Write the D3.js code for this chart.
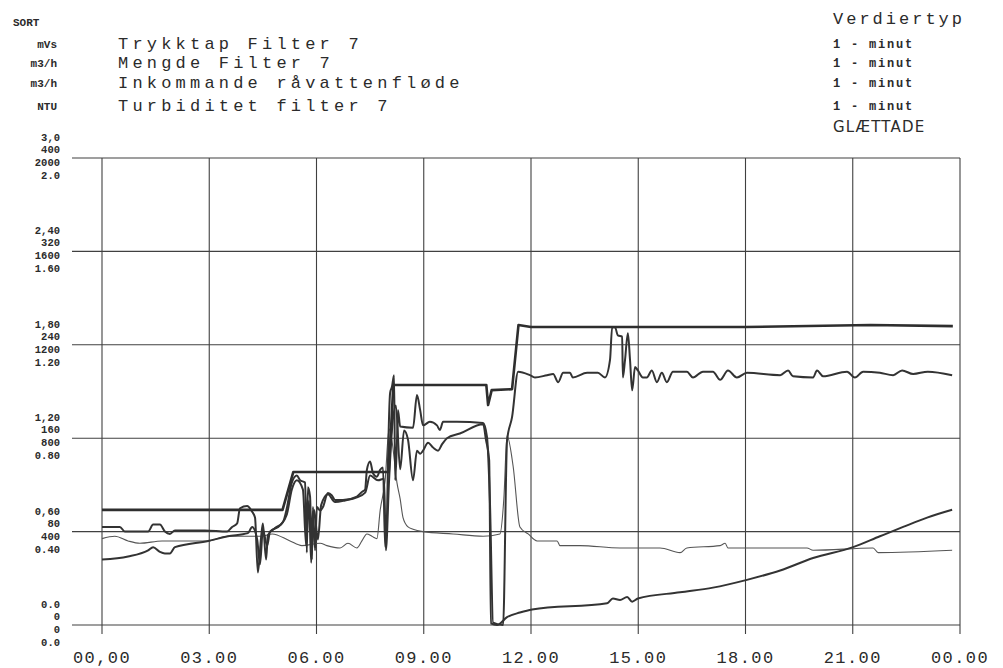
<!DOCTYPE html>
<html>
<head>
<meta charset="utf-8">
<script src="https://cdn.jsdelivr.net/npm/d3@7"></script>
<style>
  body { margin: 0; background: #fff; }
  svg text { fill: #2b2b2b; }
</style>
</head>
<body>
<div id="chart"></div>
<script>
// hours of day vs value
var inkommande = [[0,493],[5.05,493],[5.35,655],[8.02,655],[8.15,1028],[10.75,1028],[10.8,942],[10.9,1006],[11.47,1010],[11.65,1285],[12,1276],[18,1276],[21.5,1285],[23.8,1280]];

var mengde = [[0,84],[0.5,84],[0.64,80],[1.29,80],[1.43,86],[1.62,86],[1.76,80],[1.9,78],[2.04,81],[2.88,81],[3.5,80],[3.64,84],[3.78,87],[3.86,100],[4.06,102],[4.2,97],[4.28,92],[4.36,45],[4.45,75],[4.5,87],[4.59,56],[4.64,77],[4.84,83],[5.06,88],[5.17,100],[5.31,122],[5.45,128],[5.54,124],[5.68,122],[5.73,62],[5.76,118],[5.82,110],[5.87,56],[5.9,101],[5.96,64],[6.01,101],[6.1,98],[6.18,101],[6.32,113],[6.43,111],[6.52,107],[6.74,107],[7.13,110],[7.27,114],[7.36,116],[7.41,133],[7.5,140],[7.58,130],[7.69,127],[7.78,133],[7.86,135],[7.92,67],[7.97,90],[8.0,141],[8.06,199],[8.11,204],[8.17,214],[8.2,124],[8.25,156],[8.28,184],[8.34,170],[8.7,169],[8.81,197],[8.9,184],[8.98,171],[9.17,174],[9.37,171],[9.45,167],[9.54,174],[9.93,174],[10.66,173],[10.77,161],[10.85,107],[10.94,2],[11.22,0],[11.33,158],[11.47,178],[11.64,217],[11.97,214],[12.11,212],[12.45,214],[12.62,215],[12.76,208],[12.9,216],[13.09,216],[13.17,212],[13.57,216],[13.87,216],[14.07,212],[14.21,227],[14.27,255],[14.35,255],[14.43,248],[14.55,247],[14.57,212],[14.63,227],[14.71,250],[14.77,227],[14.83,201],[14.91,221],[14.99,218],[15.13,212],[15.24,212],[15.38,218],[15.52,208],[15.66,216],[15.8,208],[15.97,217],[16.36,217],[16.53,212],[16.81,217],[17.09,217],[17.29,210],[17.51,218],[17.76,212],[18.04,216],[18.97,214],[19.19,218],[19.33,213],[19.89,212],[20.0,218],[20.17,213],[20.84,217],[21.06,212],[21.29,217],[21.76,216],[22.13,214],[22.38,218],[22.69,215],[23.1,217],[23.78,214]];

var trykktap = [[0,0.42],[0.73,0.44],[1.29,0.48],[1.43,0.5],[1.62,0.47],[1.76,0.46],[1.9,0.46],[2.04,0.5],[2.97,0.54],[3.52,0.57],[4.08,0.59],[4.2,0.63],[4.34,0.55],[4.42,0.39],[4.5,0.61],[4.62,0.51],[4.7,0.6],[4.98,0.64],[5.17,0.71],[5.31,0.87],[5.45,0.93],[5.62,0.87],[5.71,0.51],[5.79,0.8],[5.85,0.4],[5.93,0.74],[6.04,0.55],[6.13,0.77],[6.32,0.84],[6.52,0.79],[6.8,0.8],[7.13,0.82],[7.36,0.85],[7.5,0.96],[7.72,0.93],[7.89,0.94],[7.94,0.48],[8.03,0.93],[8.11,1.25],[8.22,1.41],[8.34,1.0],[8.45,1.25],[8.56,1.19],[8.7,0.93],[8.81,1.12],[8.9,1.1],[8.98,1.12],[9.12,1.17],[9.26,1.14],[9.4,1.12],[9.51,1.16],[9.65,1.2],[10.01,1.23],[10.66,1.29],[10.74,1.19],[10.83,1.06],[10.88,0.01],[11.05,0],[11.33,0.05],[11.69,0.08],[12.03,0.1],[14.13,0.14],[14.29,0.17],[14.49,0.16],[14.69,0.18],[14.83,0.15],[14.99,0.17],[16.17,0.21],[17.09,0.24],[18.04,0.29],[18.97,0.35],[19.89,0.43],[21.01,0.5],[21.76,0.57],[22.41,0.63],[23.08,0.69],[23.78,0.74]];

var turbiditet = [[0,0.37],[0.36,0.38],[0.73,0.36],[1.06,0.35],[1.68,0.36],[2.97,0.36],[3.52,0.38],[4.14,0.38],[4.48,0.38],[4.76,0.39],[5.26,0.36],[5.59,0.34],[6.1,0.35],[6.29,0.34],[6.66,0.33],[6.88,0.35],[7.13,0.33],[7.27,0.36],[7.41,0.39],[7.55,0.38],[7.69,0.37],[7.78,0.49],[7.92,0.62],[8.03,0.84],[8.11,0.79],[8.25,0.61],[8.34,0.54],[8.42,0.46],[8.56,0.42],[8.7,0.41],[8.98,0.4],[9.82,0.39],[10.66,0.38],[11.13,0.39],[11.24,0.54],[11.33,0.81],[11.5,0.68],[11.69,0.42],[11.92,0.39],[12.17,0.36],[12.73,0.36],[12.81,0.34],[13.37,0.34],[14.49,0.33],[15.61,0.33],[16.17,0.31],[16.36,0.33],[17.29,0.34],[17.43,0.35],[17.51,0.33],[19.72,0.33],[19.89,0.32],[21.57,0.33],[21.71,0.31],[23.78,0.32]];

// tick values and printed labels per scale (bottom to top)
var trykkTicks = [0, 0.6, 1.2, 1.8, 2.4, 3.0];
var trykkLabels = ['0.0', '0,60', '1,20', '1,80', '2,40', '3,0'];
var mengdeTicks = [0, 80, 160, 240, 320, 400];
var mengdeLabels = ['0', '80', '160', '240', '320', '400'];
var inkTicks = [0, 400, 800, 1200, 1600, 2000];
var inkLabels = ['0', '400', '800', '1200', '1600', '2000'];
var turbTicks = [0, 0.4, 0.8, 1.2, 1.6, 2.0];
var turbLabels = ['0.0', '0.40', '0.80', '1.20', '1.60', '2.0'];

var hourTicks = [0, 3, 6, 9, 12, 15, 18, 21, 24];
var hourLabels = ['00,00', '03.00', '06.00', '09.00', '12.00', '15.00', '18.00', '21.00', '00.00'];

var units = ['mVs', 'm3/h', 'm3/h', 'NTU'];
var titles = ['Trykktap Filter 7', 'Mengde Filter 7', 'Inkommande råvattenfløde', 'Turbiditet filter 7'];
var valueTypes = ['1 - minut', '1 - minut', '1 - minut', '1 - minut'];

(function() {
  var width = 1003;
  var height = 668;
  var left = 102, right = 960, top = 158, bottom = 625;
  var mono = "'Liberation Mono', 'DejaVu Sans Mono', monospace";

  var svg = d3.select('#chart')
    .append('svg')
    .attr('width', width)
    .attr('height', height);

  var x = d3.scaleLinear().domain([0, 24]).range([left, right]);
  var yTrykk = d3.scaleLinear().domain([0, 3.0]).range([bottom, top]);
  var yMengde = d3.scaleLinear().domain([0, 400]).range([bottom, top]);
  var yInk = d3.scaleLinear().domain([0, 2000]).range([bottom, top]);
  var yTurb = d3.scaleLinear().domain([0, 2.0]).range([bottom, top]);

  // header, left column
  svg.append('text')
    .attr('x', 13).attr('y', 26)
    .style('font-family', mono).style('font-size', '11px').style('font-weight', 'bold')
    .text('SORT');

  var rowY = [48, 67, 87, 110];
  svg.selectAll('.unit')
    .data(units)
    .enter().append('text')
    .attr('class', 'unit')
    .attr('x', 57)
    .attr('y', function(d, i) { return rowY[i]; })
    .attr('text-anchor', 'end')
    .style('font-family', mono).style('font-size', '11px').style('font-weight', 'bold')
    .text(function(d) { return d; });

  svg.selectAll('.title')
    .data(titles)
    .enter().append('text')
    .attr('class', 'title')
    .attr('x', 118)
    .attr('y', function(d, i) { return rowY[i] + 1; })
    .style('font-family', mono).style('font-size', '17px').style('letter-spacing', '4.2px')
    .text(function(d) { return d; });

  // header, right column
  svg.append('text')
    .attr('x', 833).attr('y', 24)
    .style('font-family', mono).style('font-size', '17px').style('letter-spacing', '3px')
    .text('Verdiertyp');

  svg.selectAll('.vtype')
    .data(valueTypes)
    .enter().append('text')
    .attr('class', 'vtype')
    .attr('x', 833)
    .attr('y', function(d, i) { return rowY[i]; })
    .style('font-family', mono).style('font-size', '12px').style('font-weight', 'bold')
    .style('letter-spacing', '1.8px')
    .text(function(d) { return d; });

  svg.append('text')
    .attr('x', 833).attr('y', 132)
    .style('font-family', "'DejaVu Sans', sans-serif").style('font-size', '15px')
    .style('letter-spacing', '1.2px')
    .text('GLÆTTADE');

  // grid
  var grid = svg.append('g').attr('stroke', '#404040').attr('stroke-width', 1.1);

  grid.selectAll('.hline')
    .data(inkTicks)
    .enter().append('line')
    .attr('x1', 72).attr('x2', right)
    .attr('y1', function(d) { return yInk(d); })
    .attr('y2', function(d) { return yInk(d); });

  grid.selectAll('.vline')
    .data(hourTicks)
    .enter().append('line')
    .attr('x1', function(d) { return x(d); })
    .attr('x2', function(d) { return x(d); })
    .attr('y1', top).attr('y2', bottom + 9);

  // stacked y labels, one per scale
  var stacks = [
    { ticks: trykkTicks, labels: trykkLabels, scale: yTrykk, dy: -17 },
    { ticks: mengdeTicks, labels: mengdeLabels, scale: yMengde, dy: -5 },
    { ticks: inkTicks, labels: inkLabels, scale: yInk, dy: 8 },
    { ticks: turbTicks, labels: turbLabels, scale: yTurb, dy: 21 }
  ];

  stacks.forEach(function(s) {
    svg.append('g').selectAll('text')
      .data(s.ticks)
      .enter().append('text')
      .attr('x', 60)
      .attr('y', function(d) { return s.scale(d) + s.dy; })
      .attr('text-anchor', 'end')
      .style('font-family', mono).style('font-size', '10.5px').style('font-weight', 'bold')
      .text(function(d, i) { return s.labels[i]; });
  });

  // hour labels
  svg.append('g').selectAll('text')
    .data(hourTicks)
    .enter().append('text')
    .attr('x', function(d) { return x(d); })
    .attr('y', 663)
    .attr('text-anchor', 'middle')
    .style('font-family', mono).style('font-size', '17px').style('letter-spacing', '1.4px')
    .text(function(d, i) { return hourLabels[i]; });

  // traces
  function draw(data, scale, w, color, curve) {
    var line = d3.line()
      .curve(curve)
      .x(function(d) { return x(d[0]); })
      .y(function(d) { return scale(d[1]); });
    svg.append('path')
      .datum(data)
      .attr('d', line)
      .attr('fill', 'none')
      .attr('stroke', color)
      .attr('stroke-width', w)
      .attr('stroke-linejoin', 'round');
  }

  draw(turbiditet, yTurb, 1.1, '#555', d3.curveMonotoneX);
  draw(trykktap, yTrykk, 2, '#333', d3.curveMonotoneX);
  draw(mengde, yMengde, 2, '#333', d3.curveMonotoneX);
  draw(inkommande, yInk, 2.6, '#2e2e2e', d3.curveLinear);
})();
</script>
</body>
</html>
